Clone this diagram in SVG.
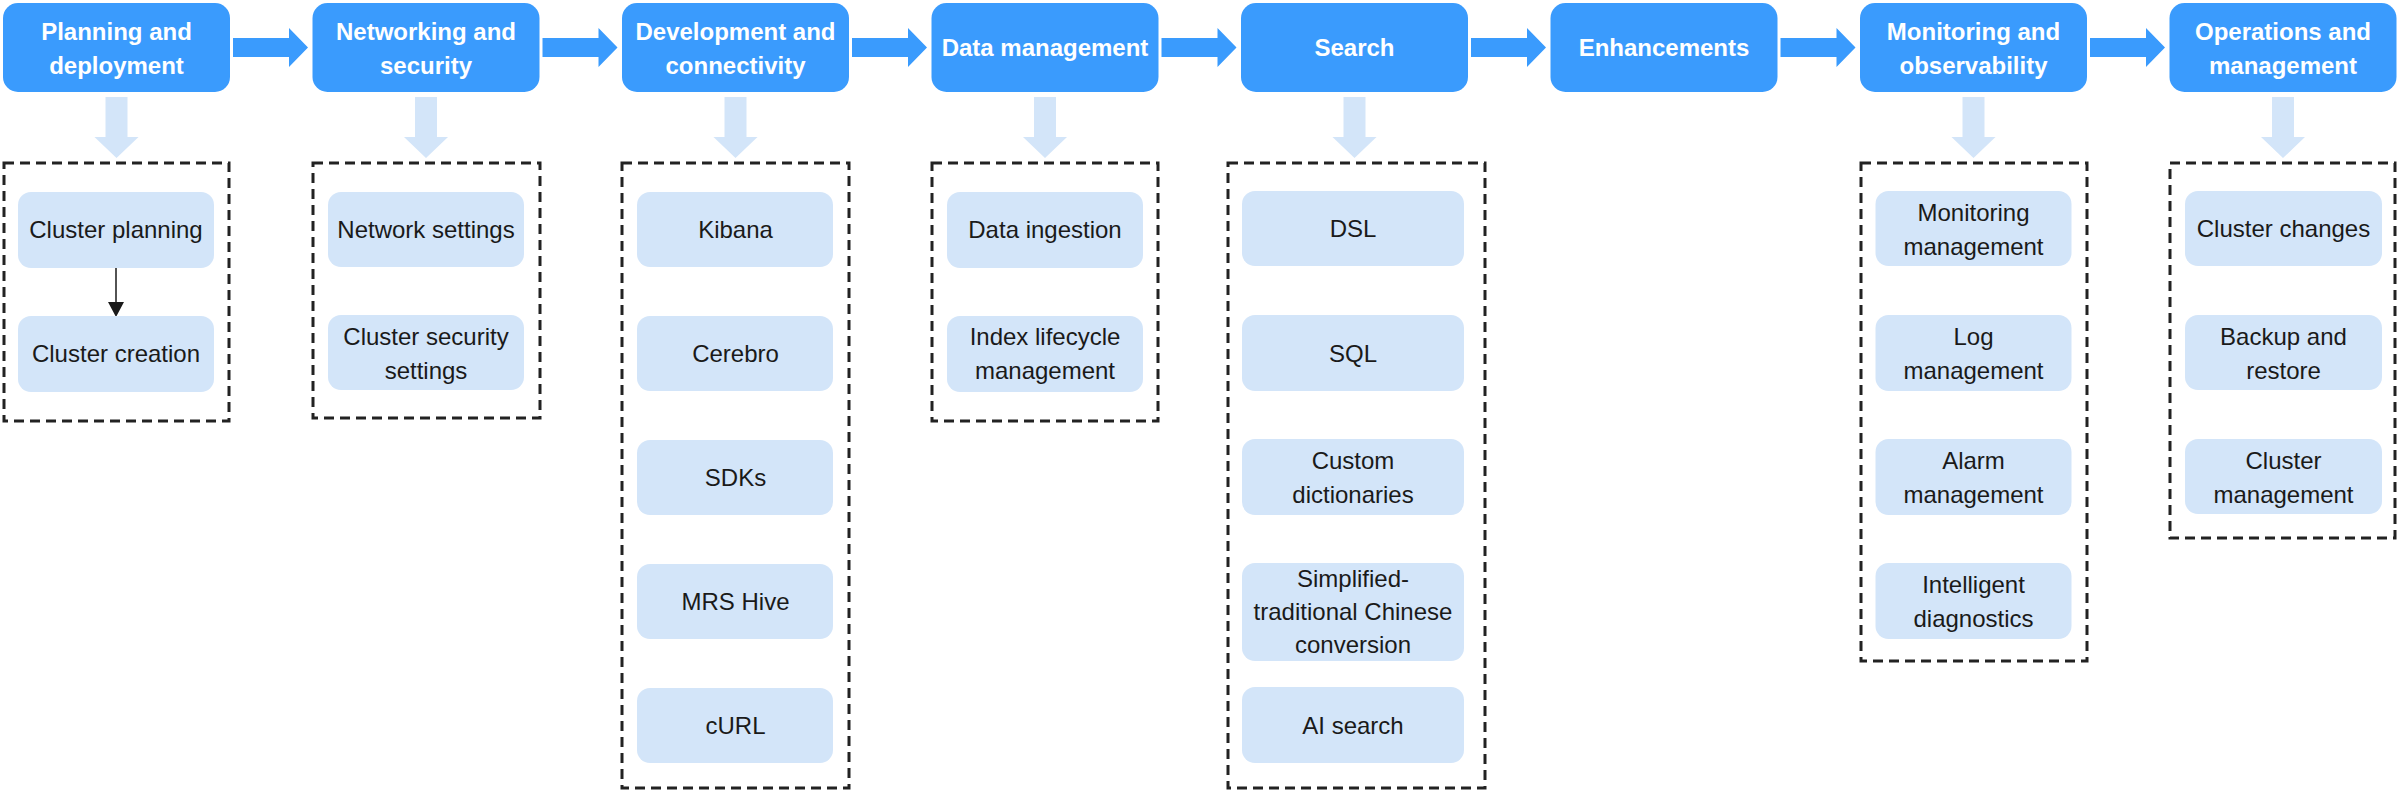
<svg xmlns="http://www.w3.org/2000/svg" xmlns:xlink="http://www.w3.org/1999/xlink" width="2400" height="793" viewBox="0 0 2400 793">
<style>
.top{fill:#3A9BFD;}
.tt{font-family:"Liberation Sans",Arial,sans-serif;font-size:24px;font-weight:bold;fill:#ffffff;text-anchor:middle;}
.sub{fill:#D3E5F9;}
.st{font-family:"Liberation Sans",Arial,sans-serif;font-size:24px;fill:#1a1a1a;text-anchor:middle;}
.dash{fill:none;stroke:#222222;stroke-width:3;stroke-dasharray:10 6;}
.harrow{fill:#3A9BFD;}
.varrow{fill:#D3E5F9;}
</style>
<defs>
<polygon id="ha" points="0,38 56,38 56,28 75,47.5 56,67 56,57 0,57"/>
<polygon id="va" points="-11,97 11,97 11,137 22,137 0,158 -22,137 -11,137"/>
</defs>
<rect width="2400" height="793" fill="#ffffff"/>

<g id="containers">
<rect id="c0" class="dash" x="4" y="163" width="225" height="258"/>
<rect id="c1" class="dash" x="313" y="163" width="227" height="255"/>
<rect id="c2" class="dash" x="622" y="163" width="227" height="625"/>
<rect id="c3" class="dash" x="932" y="163" width="226" height="258"/>
<rect id="c4" class="dash" x="1228" y="163" width="257" height="625"/>
<rect id="c6" class="dash" x="1861" y="163" width="226" height="498"/>
<rect id="c7" class="dash" x="2170" y="163" width="225" height="375"/>
</g>

<g id="connectors">
<use xlink:href="#ha" class="harrow" x="233"/>
<use xlink:href="#ha" class="harrow" x="542.5"/>
<use xlink:href="#ha" class="harrow" x="852"/>
<use xlink:href="#ha" class="harrow" x="1161.5"/>
<use xlink:href="#ha" class="harrow" x="1471"/>
<use xlink:href="#ha" class="harrow" x="1780.5"/>
<use xlink:href="#ha" class="harrow" x="2090"/>
<use xlink:href="#va" class="varrow" x="116.5"/>
<use xlink:href="#va" class="varrow" x="426"/>
<use xlink:href="#va" class="varrow" x="735.5"/>
<use xlink:href="#va" class="varrow" x="1045"/>
<use xlink:href="#va" class="varrow" x="1354.5"/>
<use xlink:href="#va" class="varrow" x="1973.5"/>
<use xlink:href="#va" class="varrow" x="2283"/>
<line x1="116" y1="268" x2="116" y2="303" stroke="#1a1a1a" stroke-width="1.5"/>
<polygon points="108,302 124,302 116,317" fill="#1a1a1a"/>
</g>

<g id="n-planning"><rect class="top" x="3" y="3" width="227" height="89" rx="15"/><text class="tt" x="116.5" y="39.5">Planning and</text><text class="tt" x="116.5" y="73.5">deployment</text></g>
<g id="n-networking"><rect class="top" x="312.5" y="3" width="227" height="89" rx="15"/><text class="tt" x="426" y="39.5">Networking and</text><text class="tt" x="426" y="73.5">security</text></g>
<g id="n-development"><rect class="top" x="622" y="3" width="227" height="89" rx="15"/><text class="tt" x="735.5" y="39.5">Development and</text><text class="tt" x="735.5" y="73.5">connectivity</text></g>
<g id="n-data"><rect class="top" x="931.5" y="3" width="227" height="89" rx="15"/><text class="tt" x="1045" y="56">Data management</text></g>
<g id="n-search"><rect class="top" x="1241" y="3" width="227" height="89" rx="15"/><text class="tt" x="1354.5" y="56">Search</text></g>
<g id="n-enhancements"><rect class="top" x="1550.5" y="3" width="227" height="89" rx="15"/><text class="tt" x="1664" y="56">Enhancements</text></g>
<g id="n-monitoring"><rect class="top" x="1860" y="3" width="227" height="89" rx="15"/><text class="tt" x="1973.5" y="39.5">Monitoring and</text><text class="tt" x="1973.5" y="73.5">observability</text></g>
<g id="n-operations"><rect class="top" x="2169.5" y="3" width="227" height="89" rx="15"/><text class="tt" x="2283" y="39.5">Operations and</text><text class="tt" x="2283" y="73.5">management</text></g>

<g id="s-cluster-planning"><rect class="sub" x="18" y="192" width="196" height="76" rx="13"/><text class="st" x="116" y="238">Cluster planning</text></g>
<g id="s-cluster-creation"><rect class="sub" x="18" y="316" width="196" height="76" rx="13"/><text class="st" x="116" y="362">Cluster creation</text></g>

<g id="s-network-settings"><rect class="sub" x="328" y="192" width="196" height="75" rx="13"/><text class="st" x="426" y="238">Network settings</text></g>
<g id="s-cluster-security"><rect class="sub" x="328" y="315" width="196" height="75" rx="13"/><text class="st" x="426" y="345">Cluster security</text><text class="st" x="426" y="379">settings</text></g>

<g id="s-kibana"><rect class="sub" x="637" y="192" width="196" height="75" rx="13"/><text class="st" x="735.5" y="238">Kibana</text></g>
<g id="s-cerebro"><rect class="sub" x="637" y="316" width="196" height="75" rx="13"/><text class="st" x="735.5" y="362">Cerebro</text></g>
<g id="s-sdks"><rect class="sub" x="637" y="440" width="196" height="75" rx="13"/><text class="st" x="735.5" y="486">SDKs</text></g>
<g id="s-mrs-hive"><rect class="sub" x="637" y="564" width="196" height="75" rx="13"/><text class="st" x="735.5" y="610">MRS Hive</text></g>
<g id="s-curl"><rect class="sub" x="637" y="688" width="196" height="75" rx="13"/><text class="st" x="735.5" y="734">cURL</text></g>

<g id="s-data-ingestion"><rect class="sub" x="947" y="192" width="196" height="76" rx="13"/><text class="st" x="1045" y="238">Data ingestion</text></g>
<g id="s-index-lifecycle"><rect class="sub" x="947" y="316" width="196" height="76" rx="13"/><text class="st" x="1045" y="345">Index lifecycle</text><text class="st" x="1045" y="379">management</text></g>

<g id="s-dsl"><rect class="sub" x="1242" y="191" width="222" height="75" rx="13"/><text class="st" x="1353" y="237">DSL</text></g>
<g id="s-sql"><rect class="sub" x="1242" y="315" width="222" height="76" rx="13"/><text class="st" x="1353" y="362">SQL</text></g>
<g id="s-custom-dict"><rect class="sub" x="1242" y="439" width="222" height="76" rx="13"/><text class="st" x="1353" y="469">Custom</text><text class="st" x="1353" y="503">dictionaries</text></g>
<g id="s-simplified"><rect class="sub" x="1242" y="563" width="222" height="98" rx="13"/><text class="st" x="1353" y="587">Simplified-</text><text class="st" x="1353" y="620">traditional Chinese</text><text class="st" x="1353" y="653">conversion</text></g>
<g id="s-ai-search"><rect class="sub" x="1242" y="687" width="222" height="76" rx="13"/><text class="st" x="1353" y="734">AI search</text></g>

<g id="s-monitoring-mgmt"><rect class="sub" x="1875.5" y="191" width="196" height="75" rx="13"/><text class="st" x="1973.5" y="221">Monitoring</text><text class="st" x="1973.5" y="255">management</text></g>
<g id="s-log-mgmt"><rect class="sub" x="1875.5" y="315" width="196" height="76" rx="13"/><text class="st" x="1973.5" y="345">Log</text><text class="st" x="1973.5" y="379">management</text></g>
<g id="s-alarm-mgmt"><rect class="sub" x="1875.5" y="439" width="196" height="76" rx="13"/><text class="st" x="1973.5" y="469">Alarm</text><text class="st" x="1973.5" y="503">management</text></g>
<g id="s-intelligent"><rect class="sub" x="1875.5" y="563" width="196" height="76" rx="13"/><text class="st" x="1973.5" y="593">Intelligent</text><text class="st" x="1973.5" y="627">diagnostics</text></g>

<g id="s-cluster-changes"><rect class="sub" x="2185" y="191" width="197" height="75" rx="13"/><text class="st" x="2283.5" y="237">Cluster changes</text></g>
<g id="s-backup"><rect class="sub" x="2185" y="315" width="197" height="75" rx="13"/><text class="st" x="2283.5" y="345">Backup and</text><text class="st" x="2283.5" y="379">restore</text></g>
<g id="s-cluster-mgmt"><rect class="sub" x="2185" y="439" width="197" height="75" rx="13"/><text class="st" x="2283.5" y="469">Cluster</text><text class="st" x="2283.5" y="503">management</text></g>
</svg>
